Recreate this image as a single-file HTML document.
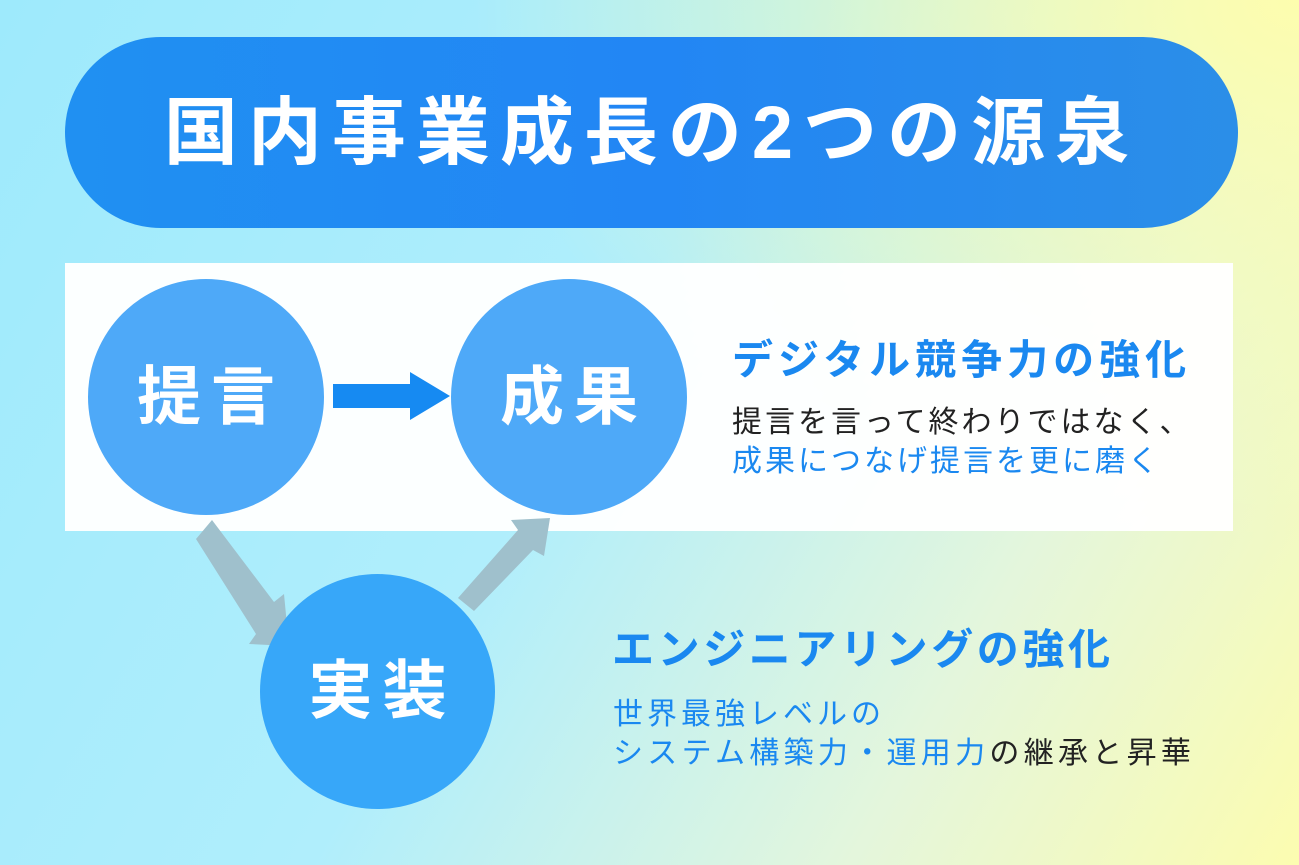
<!DOCTYPE html>
<html><head><meta charset="utf-8"><style>
body{margin:0;width:1299px;height:865px;overflow:hidden;position:relative;font-family:"Liberation Sans","Noto Sans CJK JP",sans-serif;
background:linear-gradient(120deg,#9eeafc 0%,#b0eefc 45%,#e4f6dc 75%,#fcfcb0 100%);}
.bg2{position:absolute;left:0;top:0;width:1299px;height:865px;background:radial-gradient(ellipse at 100% 0%,#fdfdae 0%,rgba(253,253,174,0) 45%);}
.pill{position:absolute;left:65px;top:37px;width:1173px;height:191px;border-radius:96px;background:linear-gradient(90deg,#2090f2,#2286f4 50%,#2b8ee8);
color:#fff;font-weight:bold;font-size:74px;letter-spacing:10px;text-align:center;line-height:191px;}
.panel{position:absolute;left:65px;top:263px;width:1168px;height:268px;background:rgba(255,255,255,0.96);}
.c{position:absolute;border-radius:50%;color:#fff;font-weight:bold;font-size:64px;text-align:center;letter-spacing:10px;text-indent:10px;}
.t{position:absolute;white-space:nowrap;font-weight:bold;}
.b{color:#1a88f0}.k{color:#222}
.s{font-size:30px;font-weight:normal;letter-spacing:3px}
</style></head><body>
<div class="bg2"></div>
<div class="pill">国内事業成長の2つの源泉</div>
<div class="panel"></div>
<svg style="position:absolute;left:0;top:0" width="1299" height="865">
<polygon points="333,384 410,384 410,372 450,396 410,420 410,408 333,408" fill="#168af2"/>
<polygon points="196,539 212,520 274,602 284,594 289,646 249,644 256,634" fill="#9fc0cc"/>
<polygon points="458,598 474,611 533,550 544,556 550,518 511,520 518,530" fill="#9fc0cc"/>
</svg>
<div class="c" style="left:88px;top:279px;width:236px;height:236px;line-height:236px;background:#4ea9f8">提言</div>
<div class="c" style="left:451px;top:279px;width:236px;height:236px;line-height:236px;background:#4ea9f8">成果</div>
<div class="c" style="left:260px;top:574px;width:235px;height:235px;line-height:235px;background:#37a7f9">実装</div>
<div class="t b" style="left:732px;top:326px;font-size:41px;letter-spacing:5px">デジタル競争力の強化</div>
<div class="t k s" style="left:732px;top:397px">提言を言って終わりではなく、</div>
<div class="t b s" style="left:732px;top:436px">成果につなげ提言を更に磨く</div>
<div class="t b" style="left:612px;top:616px;font-size:42px;letter-spacing:3.6px">エンジニアリングの強化</div>
<div class="t b s" style="left:613px;top:689px;letter-spacing:4px">世界最強レベルの</div>
<div class="t b s" style="left:613px;top:728px;letter-spacing:4.3px">システム構築力・運用力<span class="k">の継承と昇華</span></div>
</body></html>
